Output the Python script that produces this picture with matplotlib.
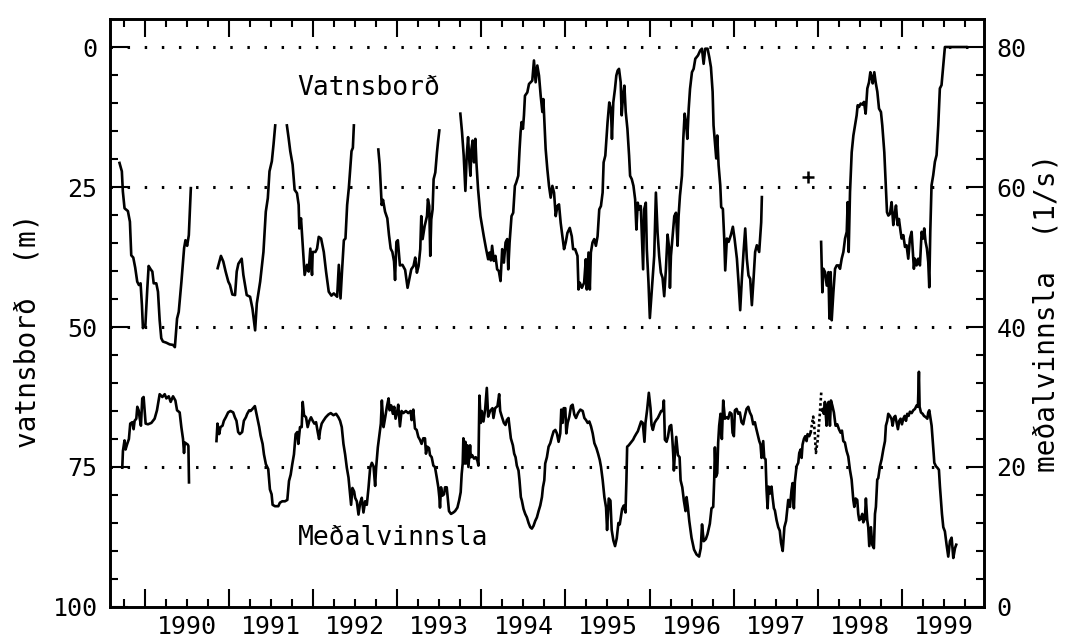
import numpy as np
import matplotlib
matplotlib.use("Agg")
import matplotlib.pyplot as plt
from matplotlib.ticker import FixedLocator, NullFormatter

nan = np.nan

# ---------------- data: Vatnsborð (water level, m below reference) ----------------
wl_year = [
    1989.693, 1989.721, 1989.733, 1989.753, 1989.793, 1989.817, 1989.833, 1989.857, 1989.880, 1989.904,
    1989.924, 1989.944, 1989.960, 1989.972, 1989.980, 1990.000, 1990.024, 1990.040, 1990.064, 1990.084,
    1990.100, 1990.131, 1990.151, 1990.171, 1990.190, 1990.210, 1990.250, 1990.290, 1990.330, 1990.352,
    1990.365, 1990.378, 1990.398, 1990.430, 1990.462, 1990.478, 1990.498, 1990.518, 1990.530, 1990.542,
    nan,
    1990.861, 1990.900, 1990.928, 1990.956, 1990.988, 1991.008, 1991.036, 1991.068, 1991.088, 1991.108,
    1991.147, 1991.167, 1991.187, 1991.207, 1991.247, 1991.275, 1991.307, 1991.327, 1991.367, 1991.406,
    1991.434, 1991.458, 1991.478, 1991.506, 1991.526, 1991.546,
    nan,
    1991.685, 1991.705, 1991.725, 1991.753, 1991.777, 1991.805, 1991.825, 1991.833, 1991.853, 1991.873,
    1991.896, 1991.924, 1991.944, 1991.964, 1991.984, 1991.992, 1992.024, 1992.044, 1992.064, 1992.092,
    1992.124, 1992.151, 1992.183, 1992.215, 1992.243, 1992.283, 1992.303, 1992.323, 1992.343, 1992.363,
    1992.382, 1992.402, 1992.422, 1992.442, 1992.454, 1992.470, 1992.482,
    nan,
    1992.773, 1992.789, 1992.801, 1992.813, 1992.829, 1992.853, 1992.880, 1992.900, 1992.920, 1992.940,
    1992.960, 1992.972, 1992.988, 1993.005, 1993.030, 1993.060, 1993.092, 1993.121, 1993.141, 1993.165,
    1993.192, 1993.212, 1993.232, 1993.252, 1993.272, 1993.284, 1993.300, 1993.324, 1993.352, 1993.363,
    1993.379, 1993.391, 1993.403, 1993.419, 1993.431, 1993.451, 1993.471, 1993.483, 1993.499,
    nan,
    1993.749, 1993.769, 1993.789, 1993.809, 1993.825, 1993.841, 1993.857, 1993.869, 1993.881, 1993.896,
    1993.912, 1993.928, 1993.940, 1993.960, 1993.988, 1994.028, 1994.056, 1994.080, 1994.096, 1994.112,
    1994.127, 1994.147, 1994.167, 1994.187, 1994.207, 1994.227, 1994.247, 1994.267, 1994.287, 1994.307,
    1994.319, 1994.335, 1994.358, 1994.378, 1994.398, 1994.414, 1994.438, 1994.454, 1994.466, 1994.478,
    1994.494, 1994.506, 1994.518, 1994.546, 1994.566, 1994.585, 1994.605, 1994.625, 1994.645, 1994.665,
    1994.685, 1994.705, 1994.725, 1994.737, 1994.748, 1994.764, 1994.784, 1994.804, 1994.824, 1994.844,
    1994.864, 1994.884, 1994.904, 1994.923, 1994.943, 1994.983, 1995.003, 1995.023, 1995.051, 1995.075,
    1995.091, 1995.115, 1995.143, 1995.155, 1995.171, 1995.195, 1995.222, 1995.242, 1995.254, 1995.274,
    1995.290, 1995.302, 1995.322, 1995.342, 1995.362, 1995.382, 1995.402, 1995.422, 1995.442, 1995.454,
    1995.474, 1995.501, 1995.521, 1995.541, 1995.553, 1995.569, 1995.589, 1995.605, 1995.621, 1995.637,
    1995.657, 1995.669, 1995.685, 1995.701, 1995.717, 1995.737, 1995.757, 1995.769, 1995.789, 1995.809,
    1995.829, 1995.844, 1995.860, 1995.876, 1995.896, 1995.908, 1995.924, 1995.936, 1995.956, 1995.968,
    1995.988, 1996.004, 1996.028, 1996.056, 1996.076, 1996.096, 1996.115, 1996.135, 1996.155, 1996.175,
    1996.195, 1996.215, 1996.235, 1996.243, 1996.255, 1996.275, 1996.295, 1996.315, 1996.334, 1996.346,
    1996.362, 1996.386, 1996.402, 1996.418, 1996.434, 1996.450, 1996.466, 1996.482, 1996.505, 1996.525,
    1996.545, 1996.577, 1996.604, 1996.624, 1996.644, 1996.663, 1996.691, 1996.711, 1996.731, 1996.751,
    1996.762, 1996.782, 1996.794, 1996.806, 1996.822, 1996.842, 1996.853, 1996.873, 1996.889, 1996.901,
    1996.921, 1996.941, 1996.968, 1996.992, 1997.012, 1997.040, 1997.059, 1997.079, 1997.099, 1997.119,
    1997.139, 1997.158, 1997.178, 1997.198, 1997.218, 1997.238, 1997.257, 1997.277, 1997.305, 1997.329,
    1997.337,
    nan,
    1998.042, 1998.057, 1998.069, 1998.089, 1998.109, 1998.129, 1998.141, 1998.156, 1998.168, 1998.188,
    1998.208, 1998.228, 1998.248, 1998.267, 1998.287, 1998.307, 1998.327, 1998.347, 1998.358, 1998.370,
    1998.386, 1998.406, 1998.426, 1998.446, 1998.465, 1998.477, 1998.493, 1998.513, 1998.533, 1998.552,
    1998.572, 1998.592, 1998.612, 1998.628, 1998.644, 1998.656, 1998.675, 1998.691, 1998.711, 1998.731,
    1998.754, 1998.770, 1998.794, 1998.810, 1998.826, 1998.842, 1998.861, 1998.881, 1998.901, 1998.921,
    1998.933, 1998.952, 1998.968, 1998.988, 1999.000, 1999.020, 1999.040, 1999.059, 1999.079, 1999.099,
    1999.119, 1999.131, 1999.146, 1999.158, 1999.178, 1999.198, 1999.218, 1999.238, 1999.257, 1999.269,
    1999.285, 1999.301, 1999.317, 1999.329, 1999.341, 1999.356, 1999.376, 1999.396, 1999.416, 1999.436,
    1999.455, 1999.475, 1999.495, 1999.515, 1999.634, 1999.770,
]
wl_m = [
    20.7, 22.2, 25.8, 28.8, 29.3, 31.2, 37.2, 37.6, 39.4, 41.9,
    42.5, 42.2, 46.1, 50.2, 49.8, 50.0, 43.1, 39.1, 39.7, 40.1,
    42.2, 42.2, 43.7, 48.8, 52.0, 52.6, 52.8, 53.1, 53.2, 53.6,
    51.0, 48.5, 47.3, 41.9, 35.9, 34.5, 35.5, 33.6, 29.4, 25.2,
    nan,
    39.5, 37.3, 38.3, 40.1, 41.9, 42.5, 44.2, 44.3, 40.1, 38.7,
    37.8, 40.7, 42.5, 44.3, 44.6, 46.7, 50.6, 45.8, 41.9, 36.6,
    29.4, 27.0, 22.2, 20.4, 17.4, 14.0,
    nan,
    14.0, 16.2, 18.6, 21.0, 25.5, 26.1, 28.2, 32.4, 30.6, 35.4,
    40.7, 38.9, 40.1, 36.0, 40.7, 36.6, 36.6, 36.0, 33.9, 34.2,
    36.6, 40.1, 43.7, 44.4, 44.0, 44.6, 38.9, 44.9, 39.5, 34.5,
    34.2, 28.2, 25.2, 21.0, 18.6, 18.0, 14.0,
    nan,
    18.3, 21.0, 24.6, 28.2, 27.3, 29.4, 30.6, 33.6, 36.0, 36.6,
    38.3, 41.6, 34.8, 34.5, 39.0, 38.9, 39.8, 43.0, 41.5, 39.7,
    39.1, 37.6, 40.3, 39.1, 36.1, 30.2, 34.3, 32.0, 30.2, 27.2,
    28.4, 37.3, 30.8, 29.0, 23.6, 22.4, 18.8, 17.0, 14.9,
    nan,
    11.9, 15.2, 19.4, 25.7, 19.4, 16.1, 20.6, 23.0, 18.2, 16.7,
    20.6, 16.4, 20.6, 25.4, 30.2, 33.8, 36.1, 37.9, 36.7, 38.1,
    35.5, 38.2, 37.3, 39.7, 40.0, 41.8, 36.1, 38.5, 34.9, 34.3,
    39.7, 34.9, 30.2, 29.6, 24.8, 24.2, 23.0, 18.2, 15.2, 13.4,
    14.6, 12.2, 8.7, 8.1, 6.6, 6.3, 6.0, 2.4, 6.3, 3.3,
    5.1, 8.7, 11.6, 9.3, 12.8, 18.2, 21.8, 24.8, 26.9, 24.8,
    26.0, 30.2, 28.4, 28.1, 31.4, 36.1, 34.9, 33.2, 32.3, 33.8,
    36.1, 36.1, 37.3, 43.3, 42.1, 43.0, 42.1, 37.9, 43.3, 36.7,
    43.3, 36.7, 34.9, 34.3, 35.5, 33.8, 29.0, 28.4, 26.0, 20.6,
    19.4, 13.4, 9.9, 11.1, 16.4, 9.9, 7.5, 5.1, 4.2, 3.9,
    6.3, 12.2, 8.7, 6.9, 11.6, 14.6, 19.4, 23.0, 23.6, 24.8,
    27.2, 32.6, 27.8, 29.0, 28.4, 33.2, 39.7, 29.0, 27.8, 36.1,
    42.1, 48.4, 43.3, 37.3, 26.0, 33.2, 37.3, 40.3, 41.2, 44.5,
    39.7, 33.5, 36.1, 43.0, 37.3, 33.8, 30.2, 29.6, 35.5, 30.2,
    26.6, 23.0, 16.4, 11.9, 13.4, 16.4, 11.1, 7.5, 4.5, 3.9,
    2.1, 1.5, 0.6, 0.3, 3.0, 0.3, 0.3, 1.8, 3.6, 8.0,
    14.0, 17.6, 19.9, 15.8, 21.1, 24.7, 28.6, 28.9, 34.2, 39.9,
    34.2, 34.8, 33.6, 32.1, 34.2, 37.8, 42.0, 47.0, 41.4, 36.6,
    32.4, 37.8, 40.8, 41.4, 46.1, 41.4, 36.6, 35.4, 36.6, 31.3,
    26.8,
    nan,
    34.8, 43.8, 39.6, 40.2, 42.6, 40.2, 48.5, 40.2, 48.8, 43.8,
    39.6, 39.0, 39.0, 39.6, 37.8, 36.6, 34.2, 33.0, 27.7, 36.6,
    25.9, 18.8, 15.8, 14.0, 12.2, 10.4, 10.7, 10.1, 10.3, 9.8,
    11.9, 7.4, 6.3, 4.5, 5.4, 6.5, 4.5, 6.3, 8.0, 11.0,
    11.6, 14.0, 18.8, 24.1, 29.5, 30.1, 29.8, 27.7, 31.8, 29.5,
    28.3, 31.8, 30.7, 33.0, 34.2, 33.6, 35.7, 35.4, 37.8, 34.2,
    33.0, 36.0, 39.6, 37.8, 39.0, 37.8, 39.0, 33.0, 34.2, 32.4,
    34.8, 36.0, 38.4, 42.9, 33.0, 24.7, 22.9, 20.5, 19.3, 14.0,
    7.4, 6.8, 3.3, 0.0, 0.0, 0.0,
]

# single isolated reading
plus_year = [1997.883]
plus_m = [23.2]

# ---------------- data: Meðalvinnsla (mean production, l/s) ----------------
q_year = [
    1989.726, 1989.734, 1989.753, 1989.765, 1989.785, 1989.805, 1989.821, 1989.845, 1989.861, 1989.873,
    1989.893, 1989.905, 1989.921, 1989.932, 1989.948, 1989.964, 1989.980, 1989.992, 1990.004, 1990.032,
    1990.072, 1990.111, 1990.139, 1990.159, 1990.171, 1990.203, 1990.231, 1990.251, 1990.279, 1990.302,
    1990.330, 1990.358, 1990.378, 1990.409, 1990.429, 1990.449, 1990.461, 1990.470, 1990.505, 1990.513,
    1990.520,
    nan,
    1990.847, 1990.859, 1990.879, 1990.895, 1990.919, 1990.935, 1990.958, 1990.986, 1991.014, 1991.046,
    1991.066, 1991.085, 1991.105, 1991.125, 1991.153, 1991.173, 1991.197, 1991.213, 1991.237, 1991.253,
    1991.276, 1991.304, 1991.332, 1991.356, 1991.372, 1991.396, 1991.412, 1991.435, 1991.463, 1991.483,
    1991.503, 1991.515, 1991.543, 1991.583, 1991.602, 1991.630, 1991.662, 1991.690, 1991.710, 1991.730,
    1991.749, 1991.769, 1991.789, 1991.809, 1991.821, 1991.841, 1991.861, 1991.873, 1991.889, 1991.913,
    1991.932, 1991.952, 1991.972, 1991.992, 1992.012, 1992.032, 1992.052, 1992.068, 1992.080, 1992.099,
    1992.119, 1992.147, 1992.179, 1992.207, 1992.239, 1992.270, 1992.298, 1992.318, 1992.338, 1992.358,
    1992.378, 1992.398, 1992.418, 1992.437, 1992.449, 1992.465, 1992.485, 1992.497, 1992.517, 1992.537,
    1992.557, 1992.576, 1992.596, 1992.616, 1992.636, 1992.656, 1992.676, 1992.696, 1992.716, 1992.735,
    1992.747, 1992.767, 1992.787, 1992.803, 1992.815, 1992.835, 1992.855, 1992.875, 1992.895, 1992.907,
    1992.926, 1992.946, 1992.962, 1992.978, 1993.000, 1993.010, 1993.030, 1993.050, 1993.070, 1993.101,
    1993.129, 1993.157, 1993.169, 1993.189, 1993.209, 1993.229, 1993.249, 1993.268, 1993.288, 1993.308,
    1993.328, 1993.340, 1993.356, 1993.376, 1993.388, 1993.408, 1993.428, 1993.447, 1993.467, 1993.487,
    1993.499, 1993.507, 1993.519, 1993.535, 1993.555, 1993.567, 1993.587, 1993.598, 1993.614, 1993.638,
    1993.666, 1993.686, 1993.714, 1993.734, 1993.753, 1993.765, 1993.777, 1993.785, 1993.797, 1993.809,
    1993.817, 1993.833, 1993.845, 1993.865, 1993.873, 1993.889, 1993.912, 1993.932, 1993.952, 1993.964,
    1993.976, 1993.992, 1994.004, 1994.024, 1994.044, 1994.064, 1994.080, 1994.103, 1994.131, 1994.143,
    1994.163, 1994.191, 1994.211, 1994.223, 1994.243, 1994.267, 1994.286, 1994.302, 1994.322, 1994.334,
    1994.350, 1994.374, 1994.390, 1994.406, 1994.421, 1994.441, 1994.453, 1994.469, 1994.481, 1994.501,
    1994.521, 1994.541, 1994.561, 1994.581, 1994.600, 1994.620, 1994.640, 1994.660, 1994.680, 1994.700,
    1994.720, 1994.732, 1994.748, 1994.759, 1994.779, 1994.799, 1994.819, 1994.839, 1994.859, 1994.879,
    1994.898, 1994.918, 1994.938, 1994.950, 1994.966, 1994.978, 1994.998, 1995.010, 1995.026, 1995.046,
    1995.066, 1995.085, 1995.105, 1995.125, 1995.149, 1995.177, 1995.205, 1995.225, 1995.245, 1995.264,
    1995.284, 1995.304, 1995.324, 1995.344, 1995.368, 1995.388, 1995.408, 1995.423, 1995.443, 1995.463,
    1995.483, 1995.495, 1995.515, 1995.535, 1995.550, 1995.570, 1995.590, 1995.610, 1995.630, 1995.646,
    1995.674, 1995.694, 1995.714, 1995.725, 1995.734, 1995.753, 1995.773, 1995.805, 1995.821, 1995.845,
    1995.861, 1995.881, 1995.900, 1995.920, 1995.940, 1995.952, 1995.972, 1995.992, 1996.012, 1996.024,
    1996.040, 1996.060, 1996.080, 1996.099, 1996.119, 1996.139, 1996.159, 1996.171, 1996.183, 1996.203,
    1996.219, 1996.239, 1996.258, 1996.270, 1996.282, 1996.290, 1996.302, 1996.318, 1996.338, 1996.358,
    1996.370, 1996.390, 1996.409, 1996.429, 1996.441, 1996.457, 1996.473, 1996.500, 1996.530, 1996.560,
    1996.590, 1996.610, 1996.625, 1996.645, 1996.670, 1996.690, 1996.718, 1996.738, 1996.758, 1996.770,
    1996.778, 1996.790, 1996.806, 1996.817, 1996.829, 1996.845, 1996.861, 1996.877, 1996.897, 1996.917,
    1996.937, 1996.956, 1996.976, 1996.988, 1997.004, 1997.016, 1997.036, 1997.056, 1997.075, 1997.095,
    1997.115, 1997.135, 1997.155, 1997.175, 1997.194, 1997.214, 1997.234, 1997.254, 1997.266, 1997.282,
    1997.306, 1997.321, 1997.333, 1997.353, 1997.365, 1997.381, 1997.393, 1997.405, 1997.417, 1997.433,
    1997.452, 1997.464, 1997.480, 1997.492, 1997.512, 1997.532, 1997.550, 1997.565, 1997.585, 1997.605,
    1997.625, 1997.651, 1997.671, 1997.690, 1997.702, 1997.718, 1997.730, 1997.750, 1997.770, 1997.782,
    1997.798, 1997.810, 1997.821, 1997.837, 1997.853, 1997.869, 1997.881, 1997.901, 1997.917,
    nan,
    1998.048, 1998.060, 1998.075, 1998.087, 1998.107, 1998.115, 1998.131, 1998.147, 1998.159, 1998.175,
    1998.194, 1998.214, 1998.234, 1998.254, 1998.274, 1998.290, 1998.306, 1998.325, 1998.345, 1998.365,
    1998.385, 1998.405, 1998.425, 1998.437, 1998.452, 1998.472, 1998.484, 1998.496, 1998.512, 1998.532,
    1998.544, 1998.563, 1998.575, 1998.591, 1998.603, 1998.615, 1998.635, 1998.650, 1998.670, 1998.683,
    1998.694, 1998.710, 1998.722, 1998.742, 1998.762, 1998.782, 1998.802, 1998.813, 1998.829, 1998.841,
    1998.861, 1998.881, 1998.893, 1998.909, 1998.925, 1998.940, 1998.956, 1998.972, 1998.988, 1999.004,
    1999.020, 1999.036, 1999.052, 1999.067, 1999.083, 1999.099, 1999.119, 1999.139, 1999.159, 1999.179,
    1999.194, 1999.206, 1999.214, 1999.230, 1999.250, 1999.266, 1999.290, 1999.306, 1999.317, 1999.329,
    1999.345, 1999.357, 1999.369, 1999.381, 1999.389, 1999.409, 1999.425, 1999.444, 1999.456, 1999.468,
    1999.480, 1999.496, 1999.515, 1999.535, 1999.555, 1999.575, 1999.595, 1999.615, 1999.635, 1999.650,
]
q_ls = [
    19.9, 22.3, 23.8, 22.5, 23.3, 24.0, 26.2, 26.4, 25.4, 26.6,
    26.9, 28.6, 28.1, 27.1, 25.9, 29.8, 30.0, 28.1, 26.2, 26.1,
    26.3, 26.9, 28.1, 29.5, 30.4, 30.0, 30.4, 29.8, 30.1, 29.3,
    30.1, 29.5, 28.1, 27.8, 25.7, 24.0, 22.0, 23.5, 23.2, 23.0,
    17.8,
    nan,
    23.7, 26.2, 24.7, 25.7, 25.9, 26.6, 27.1, 27.8, 28.0, 27.8,
    27.1, 26.6, 25.0, 24.7, 25.0, 26.6, 27.1, 27.6, 28.1, 28.0,
    28.3, 28.7, 27.1, 25.7, 24.5, 23.3, 21.8, 20.4, 19.7, 16.8,
    16.1, 14.6, 14.4, 14.4, 14.9, 15.1, 15.1, 15.3, 18.0, 18.9,
    20.4, 21.8, 24.7, 25.0, 23.3, 25.7, 25.7, 29.3, 27.4, 27.1,
    25.7, 26.6, 27.1, 26.6, 26.2, 26.4, 25.0, 24.0, 25.2, 26.2,
    26.6, 27.1, 27.5, 27.7, 27.4, 27.6, 27.1, 26.6, 25.7, 23.3,
    21.8, 19.9, 18.5, 16.1, 14.6, 17.0, 16.5, 15.6, 15.1, 13.2,
    14.9, 15.6, 13.5, 15.1, 14.6, 17.0, 19.9, 20.6, 20.1, 17.3,
    19.9, 22.8, 24.7, 26.2, 29.5, 25.7, 27.1, 28.6, 29.8, 28.1,
    28.8, 27.6, 28.6, 26.9, 28.1, 28.9, 25.8, 28.0, 27.7, 28.0,
    27.7, 28.0, 26.7, 28.2, 25.5, 25.3, 24.3, 23.9, 23.3, 24.1,
    24.1, 21.9, 22.9, 22.7, 21.7, 21.4, 20.2, 20.0, 18.6, 17.1,
    15.7, 14.2, 17.1, 15.9, 16.1, 17.1, 17.1, 15.7, 13.7, 13.3,
    13.5, 13.7, 14.2, 15.2, 16.4, 19.0, 20.5, 24.1, 20.5, 23.6,
    20.5, 23.1, 20.0, 23.1, 21.4, 21.7, 21.2, 21.4, 20.9, 20.2,
    30.2, 26.3, 28.0, 26.5, 28.2, 31.3, 27.2, 28.0, 28.4, 27.0,
    28.4, 28.7, 30.4, 28.0, 27.2, 26.3, 26.0, 26.7, 27.0, 25.8,
    24.1, 23.1, 21.9, 21.4, 20.2, 19.5, 18.1, 15.7, 15.2, 14.0,
    13.3, 12.8, 12.0, 11.4, 11.2, 11.6, 12.3, 12.8, 13.7, 14.5,
    15.7, 17.1, 18.1, 20.5, 21.4, 22.9, 23.4, 24.3, 25.1, 25.3,
    24.8, 23.6, 24.8, 28.2, 26.3, 28.4, 28.4, 24.8, 26.3, 27.2,
    28.7, 28.9, 27.5, 27.0, 27.7, 28.2, 28.0, 27.0, 26.7, 26.3,
    26.5, 25.8, 24.8, 23.4, 22.7, 21.9, 21.0, 20.0, 18.1, 15.7,
    14.2, 11.0, 15.5, 15.2, 11.0, 9.5, 8.7, 9.8, 12.0, 11.8,
    14.0, 14.5, 13.5, 18.0, 22.9, 23.1, 23.4, 23.9, 24.3, 24.8,
    25.1, 25.8, 26.5, 26.3, 23.6, 26.3, 28.2, 30.6, 28.4, 26.0,
    25.3, 26.3, 26.7, 27.0, 27.5, 28.0, 28.0, 29.5, 23.9, 23.6,
    24.3, 25.8, 26.0, 24.3, 21.9, 19.5, 21.9, 24.3, 21.7, 21.4,
    18.1, 17.1, 15.2, 13.7, 15.7, 14.2, 12.3, 9.9, 8.2, 7.5,
    7.2, 8.4, 11.8, 9.4, 9.7, 10.4, 11.9, 14.1, 14.3, 18.2,
    22.8, 18.6, 19.1, 23.5, 25.9, 27.6, 24.0, 29.5, 26.9, 27.1,
    26.9, 27.8, 27.6, 24.9, 24.4, 28.1, 28.3, 27.6, 27.8, 26.4,
    26.1, 27.3, 28.3, 28.6, 27.8, 27.3, 26.1, 26.4, 25.7, 24.9,
    23.7, 23.2, 21.3, 23.7, 21.3, 21.1, 16.7, 14.1, 17.2, 16.2,
    17.2, 15.7, 14.1, 13.8, 12.4, 11.4, 10.9, 9.2, 8.0, 11.4,
    12.3, 15.3, 14.3, 16.7, 17.7, 14.1, 17.9, 20.1, 20.6, 22.0,
    22.5, 21.3, 23.2, 24.0, 24.4, 23.7, 24.7, 24.4, 24.9,
    nan,
    28.1, 28.3, 27.6, 29.3, 25.9, 28.8, 29.3, 25.9, 29.5, 28.8,
    27.8, 25.9, 26.1, 25.4, 24.9, 25.2, 23.7, 23.5, 22.3, 21.5,
    19.6, 18.2, 15.3, 14.3, 15.5, 15.3, 13.3, 12.4, 12.6, 13.3,
    12.1, 12.6, 15.5, 12.4, 11.4, 8.7, 11.4, 8.9, 8.4, 13.3,
    14.3, 18.2, 18.4, 20.1, 21.1, 22.5, 23.7, 25.9, 26.6, 27.6,
    27.3, 26.8, 25.9, 27.1, 27.3, 26.4, 25.4, 26.6, 26.9, 26.1,
    26.9, 27.3, 26.6, 27.6, 27.3, 27.9, 27.7, 28.1, 28.3, 28.8,
    28.6, 33.6, 28.6, 27.8, 27.6, 27.3, 27.1, 26.9, 27.8, 28.1,
    26.9, 25.9, 24.0, 22.0, 20.6, 20.1, 19.9, 19.6, 17.2, 15.3,
    13.3, 11.4, 10.8, 8.9, 7.2, 9.4, 9.9, 7.0, 8.4, 8.9,
]

# estimated (dotted) stretch of Meðalvinnsla
q_est_year = [1997.917, 1997.937, 1997.948, 1997.960, 1997.972, 1997.980, 1998.000, 1998.016, 1998.028, 1998.044]
q_est_ls = [24.9, 26.4, 27.2, 25.9, 23.7, 22.0, 23.7, 25.9, 27.8, 30.7]

year_labels = [1990, 1991, 1992, 1993, 1994, 1995, 1996, 1997, 1998, 1999]
left_ticks = [0, 25, 50, 75, 100]
right_ticks = [0, 20, 40, 60, 80]
grid_levels = [0, 25, 50, 75]

# ---------------- figure ----------------
plt.rcParams['font.family'] = ['DejaVu Sans Mono', 'DejaVu Sans']
FS = 18
LW = 1.9

fig = plt.figure(figsize=(10.70, 6.38), dpi=100)
ax = fig.add_axes([0.1028, 0.0486, 0.8168, 0.9216])
ax2 = ax.twinx()

ax.set_xlim(1989.58, 1999.98)
ax.set_ylim(100, -5)
ax2.set_ylim(0, 84)

for lvl in grid_levels:
    ax.axhline(lvl, color='black', lw=2.2, linestyle=(0, (0.8, 4.8)), zorder=1)

ax.plot(wl_year, wl_m, color='black', lw=LW, zorder=3)
ax.plot(plus_year, plus_m, marker='+', color='black', ms=9, mew=1.8, ls='none', zorder=3)
ax2.plot(q_year, q_ls, color='black', lw=LW, zorder=3)
ax2.plot(q_est_year, q_est_ls, color='black', lw=LW, linestyle=(0, (1.0, 1.0)), zorder=3)

ax.text(1991.81, 7.4, 'Vatnsborð', fontsize=19, ha='left', va='center')
ax.text(1991.81, 87.6, 'Meðalvinnsla', fontsize=19, ha='left', va='center')

# spines
for a in (ax, ax2):
    for s in a.spines.values():
        s.set_linewidth(1.9)

# x ticks: years (major) and quarters (minor), inward on top and bottom
ax.xaxis.set_major_locator(FixedLocator(year_labels))
quarters = [y + q for y in [1989] + year_labels for q in (0.25, 0.5, 0.75)]
quarters = [q for q in quarters if 1989.58 < q < 1999.98]
ax.xaxis.set_minor_locator(FixedLocator(quarters))
ax.xaxis.set_major_formatter(NullFormatter())
ax.tick_params(axis='x', which='both', direction='in', top=True, bottom=True, width=1.5)
ax.tick_params(axis='x', which='major', length=13)
ax.tick_params(axis='x', which='minor', length=5.5)

sec = ax.secondary_xaxis('bottom')
sec.set_xticks([y + 0.5 for y in year_labels], labels=[str(y) for y in year_labels])
sec.tick_params(axis='x', length=0, pad=6, labelsize=FS)
sec.spines['bottom'].set_visible(False)

# left y axis
ax.yaxis.set_major_locator(FixedLocator(left_ticks))
ax.yaxis.set_minor_locator(FixedLocator([v for v in range(5, 100, 5) if v % 25]))
ax.tick_params(axis='y', which='both', direction='in', left=True, right=False, width=1.5, labelsize=FS, pad=9)
ax.tick_params(axis='y', which='major', length=13)
ax.tick_params(axis='y', which='minor', length=5.5)
ax.set_ylabel('vatnsborð  (m)', fontsize=20)
ax.yaxis.set_label_coords(-0.078, 0.47)

# right y axis
ax2.yaxis.set_major_locator(FixedLocator(right_ticks))
ax2.yaxis.set_minor_locator(FixedLocator([v for v in range(4, 80, 4) if v % 20]))
ax2.tick_params(axis='y', which='both', direction='in', right=True, left=False, width=1.5, labelsize=FS, pad=9)
ax2.tick_params(axis='y', which='major', length=13)
ax2.tick_params(axis='y', which='minor', length=5.5)
ax2.set_ylabel('meðalvinnsla  (1/s)', fontsize=20)
ax2.yaxis.set_label_coords(1.056, 0.50)

fig.savefig('out.png', dpi=100)
